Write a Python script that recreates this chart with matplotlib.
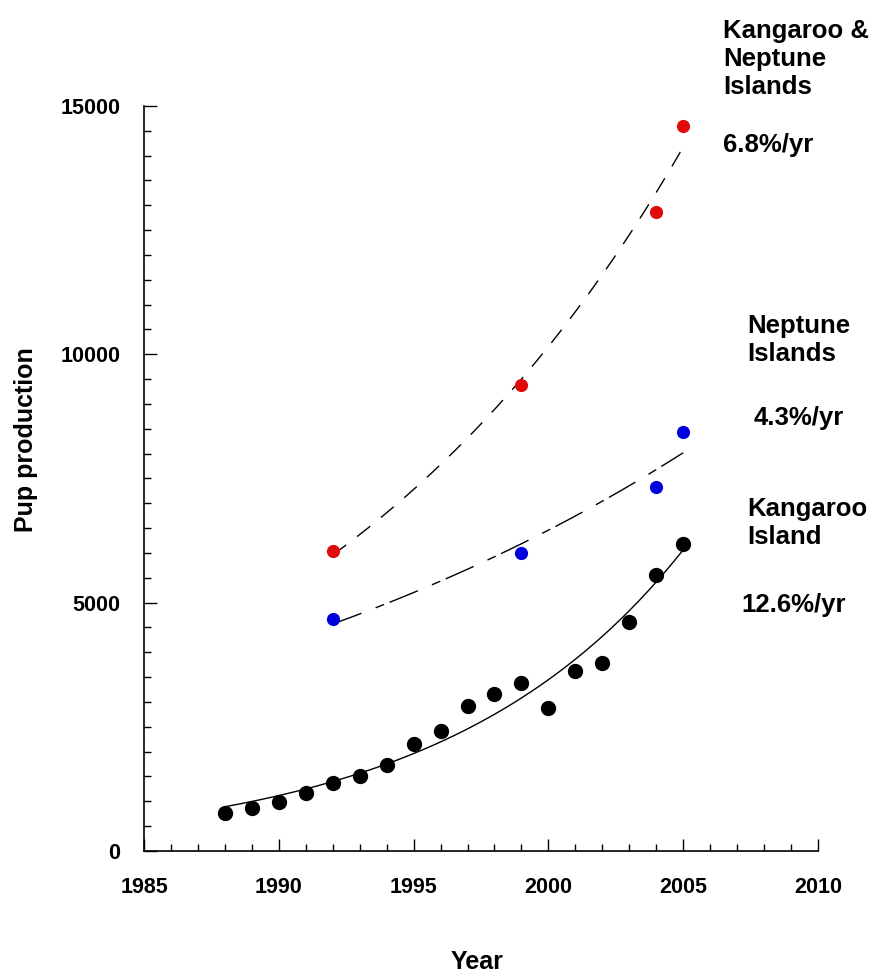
import matplotlib
matplotlib.use('Agg')
import matplotlib.pyplot as plt
import numpy as np

plt.rcParams['font.family'] = ['Liberation Sans', 'DejaVu Sans']
plt.rcParams['font.weight'] = 'bold'

# Kangaroo Island pup counts
ki_years = [1988, 1989, 1990, 1991, 1992, 1993, 1994, 1995, 1996, 1997,
            1998, 1999, 2000, 2001, 2002, 2003, 2004, 2005]
ki_pups = [766, 867, 988, 1169, 1371, 1512, 1734, 2157, 2419, 2923,
           3165, 3387, 2883, 3629, 3790, 4617, 5565, 6190]

# Neptune Islands
ni_years = [1992, 1999, 2004, 2005]
ni_pups = [4677, 6008, 7319, 8427]

# Kangaroo & Neptune Islands combined
kn_years = [1992, 1999, 2004, 2005]
kn_pups = [6048, 9375, 12863, 14597]


def exp_fit(x, y):
    # least squares on linear scale (weighted log fit)
    x = np.asarray(x, float)
    y = np.asarray(y, float)
    b, a = np.polyfit(x, np.log(y), 1, w=np.sqrt(y))
    xx = np.linspace(x.min(), x.max(), 200)
    return xx, np.exp(a + b * xx)


fig = plt.figure(figsize=(8.76, 9.75), dpi=100)
ax = fig.add_axes([0.1644, 0.1272, 0.7694, 0.7641])

xx, yy = exp_fit(ki_years, ki_pups)
ax.plot(xx, yy, color='black', lw=1)
xx, yy = exp_fit(ni_years, ni_pups)
ax.plot(xx, yy, color='black', lw=1, dashes=(22, 11, 6.5, 4.3))
xx, yy = exp_fit(kn_years, kn_pups)
ax.plot(xx, yy, color='black', lw=1, dashes=(12, 10))

ax.plot(ki_years, ki_pups, 'o', color='black', ms=10, zorder=3)
ax.plot(ni_years, ni_pups, 'o', color='#0000dd', ms=9.5, mec='none', zorder=3)
ax.plot(kn_years, kn_pups, 'o', color='#e00a0a', ms=9.5, mec='none', zorder=3)

ax.set_xlim(1985, 2010)
ax.set_ylim(0, 15000)
ax.set_xticks(np.arange(1985, 2011, 5))
ax.set_xticks(np.arange(1985, 2011, 1), minor=True)
ax.set_yticks(np.arange(0, 15001, 5000))
ax.set_yticks(np.arange(0, 15001, 500), minor=True)
ax.tick_params(which='both', direction='in', labelsize=15.5, width=1)
ax.tick_params(which='major', length=9)
ax.tick_params(which='minor', length=5)
ax.tick_params(axis='y', pad=17)
ax.tick_params(axis='x', pad=19)
for s in ['top', 'right']:
    ax.spines[s].set_visible(False)
for s in ['left', 'bottom']:
    ax.spines[s].set_linewidth(1.2)

ax.set_xlabel('Year', fontsize=18, fontweight='bold')
ax.set_ylabel('Pup production', fontsize=18, fontweight='bold')
ax.xaxis.set_label_coords(0.494, -0.133)
ax.yaxis.set_label_coords(-0.157, 0.552)

fig.text(723 / 876, 1 - 19 / 975, 'Kangaroo &\nNeptune\nIslands',
         fontsize=18.5, va='top', ha='left', linespacing=1.2)
fig.text(723 / 876, 1 - 145 / 975, '6.8%/yr', fontsize=18.5, va='center', ha='left')
fig.text(747 / 876, 1 - 314 / 975, 'Neptune\nIslands',
         fontsize=18.5, va='top', ha='left', linespacing=1.2)
fig.text(754 / 876, 1 - 418 / 975, '4.3%/yr', fontsize=18.5, va='center', ha='left')
fig.text(747 / 876, 1 - 497 / 975, 'Kangaroo\nIsland',
         fontsize=18.5, va='top', ha='left', linespacing=1.2)
fig.text(741 / 876, 1 - 605 / 975, '12.6%/yr', fontsize=18.5, va='center', ha='left')

fig.savefig('out.png', dpi=100)
